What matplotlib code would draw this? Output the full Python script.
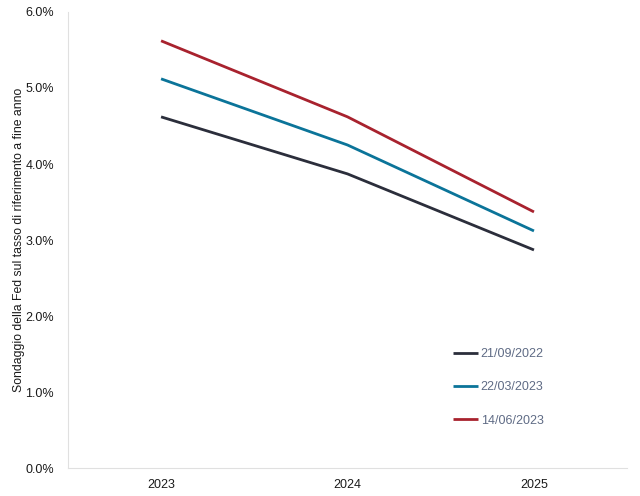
import numpy as np
import matplotlib.pyplot as plt
from matplotlib.ticker import FuncFormatter

plt.rcParams['font.family'] = ['Liberation Sans', 'DejaVu Sans']

years = ['2023', '2024', '2025']
sep_2022 = [4.62, 3.87, 2.87]
mar_2023 = [5.12, 4.25, 3.12]
jun_2023 = [5.62, 4.62, 3.37]
labels = ['21/09/2022', '22/03/2023', '14/06/2023']
colors = ['#2b2e3b', '#0b7499', '#a8222e']

fig = plt.figure(figsize=(6.4, 4.96), dpi=100)
ax = fig.add_axes([0.106, 0.056, 0.874, 0.92])

x = np.arange(len(years))
for series, lab, c in zip([sep_2022, mar_2023, jun_2023], labels, colors):
    ax.plot(x, series, color=c, lw=2, label=lab, solid_capstyle='butt')

ax.set_xlim(-0.5, 2.5)
ax.set_ylim(0, 6)
ax.set_xticks(x)
ax.set_xticklabels(years)
ax.set_yticks(np.arange(0, 7, 1))
ax.yaxis.set_major_formatter(FuncFormatter(lambda v, p: f'{v:.1f}%'))
ax.tick_params(length=0, labelsize=9, colors='#1a1a1a', pad=8)
ax.tick_params(axis='y', pad=10)

for s in ['top', 'right']:
    ax.spines[s].set_visible(False)
for s in ['left', 'bottom']:
    ax.spines[s].set_color('#e0e0e0')
    ax.spines[s].set_linewidth(0.8)

ax.set_ylabel('Sondaggio della Fed sul tasso di riferimento a fine anno', fontsize=8.8, color='#1a1a1a')
ax.yaxis.set_label_coords(-0.076, 0.5)

leg = ax.legend(loc='upper left', bbox_to_anchor=(0.689, 0.263), frameon=False,
                fontsize=9, labelspacing=1.7, handlelength=2.0, handletextpad=0.2,
                borderpad=0, borderaxespad=0)
for t in leg.get_texts():
    t.set_color('#5f6b85')

fig.savefig('out.png', dpi=100)
